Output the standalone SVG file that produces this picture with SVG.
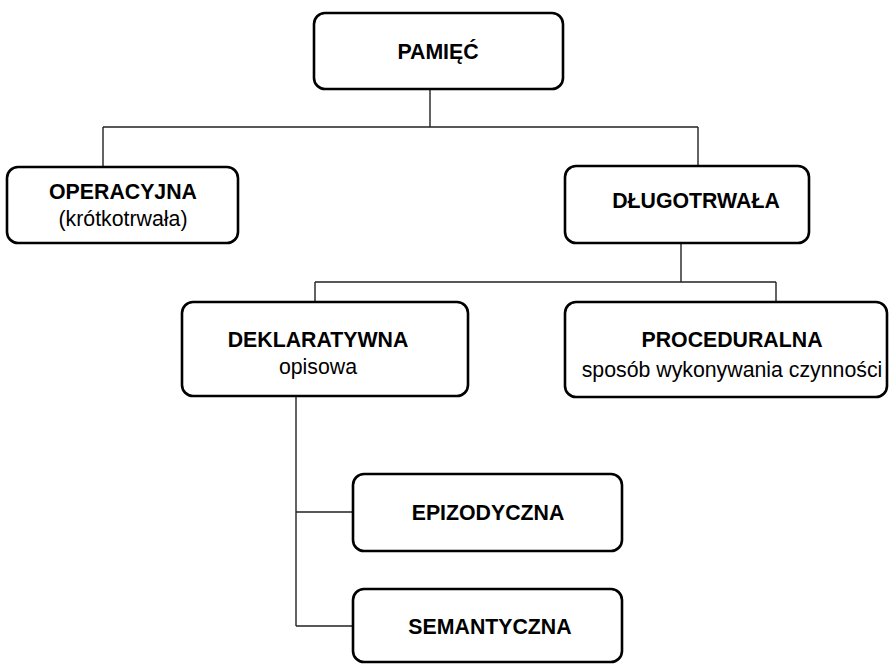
<svg xmlns="http://www.w3.org/2000/svg" width="889" height="664" viewBox="0 0 889 664">
<style>
.box{fill:#fff;stroke:#000;stroke-width:2.6}
.t{font-family:"Liberation Sans",Arial,sans-serif;font-size:21.3px;fill:#000;text-anchor:middle}
.b{font-weight:bold}
.c{fill:none;stroke:#222;stroke-width:1.4}
</style>
<rect width="889" height="664" fill="#fff"/>
<g id="connectors">
<path class="c" d="M430 89V127M103 127H698M103 127V167M698 127V166"/>
<path class="c" d="M681 243V282M315 282H776M315 282V302M776 282V302"/>
<path class="c" d="M296 396V626M296 512H353M296 626H353"/>
</g>
<g id="pamiec">
<rect class="box" x="314" y="13" width="249" height="76" rx="11"/>
<text class="t b" x="438" y="59">PAMIĘĆ</text>
</g>
<g id="operacyjna">
<rect class="box" x="7" y="167" width="231" height="76" rx="11"/>
<text class="t b" x="123" y="199">OPERACYJNA</text>
<text class="t" x="123" y="226">(krótkotrwała)</text>
</g>
<g id="dlugotrwala">
<rect class="box" x="565" y="166" width="244" height="77" rx="11"/>
<text class="t b" x="696" y="208">DŁUGOTRWAŁA</text>
</g>
<g id="deklaratywna">
<rect class="box" x="182" y="302" width="286" height="94" rx="11"/>
<text class="t b" x="318" y="347">DEKLARATYWNA</text>
<text class="t" x="318" y="374">opisowa</text>
</g>
<g id="proceduralna">
<rect class="box" x="565" y="302" width="322" height="95" rx="11"/>
<text class="t b" x="732" y="347">PROCEDURALNA</text>
<text class="t" x="732" y="377">sposób wykonywania czynności</text>
</g>
<g id="epizodyczna">
<rect class="box" x="353" y="474" width="269" height="77" rx="11"/>
<text class="t b" x="488" y="520">EPIZODYCZNA</text>
</g>
<g id="semantyczna">
<rect class="box" x="353" y="589" width="269" height="73" rx="11"/>
<text class="t b" x="490" y="634">SEMANTYCZNA</text>
</g>
</svg>
